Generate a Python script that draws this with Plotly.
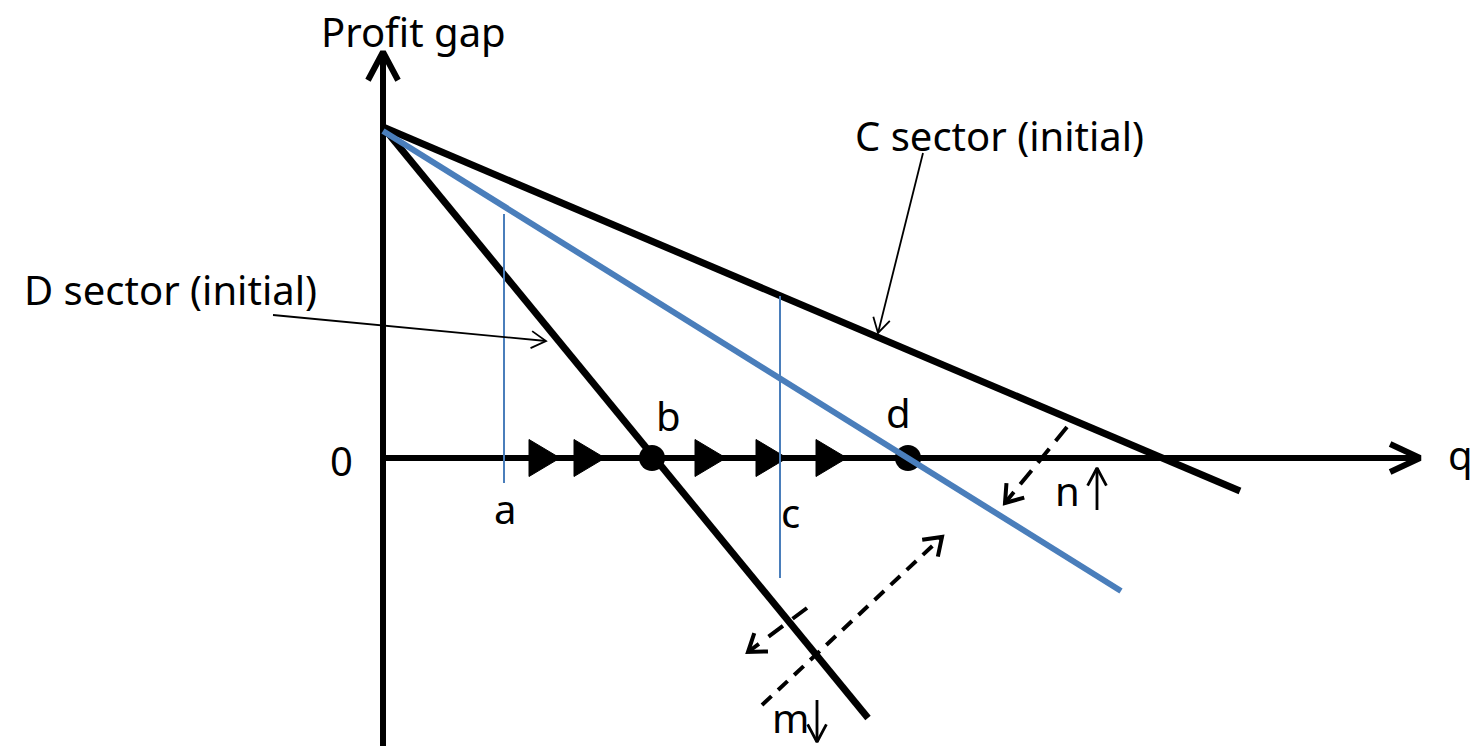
import math
import plotly.graph_objects as go

# ---------------- diagram data (q to the right, profit gap upward; origin = 0) ----------------
q_axis_end = 1037
gap_axis_top = 406
gap_axis_bottom = -290

c_sector_q = [0, 857]
c_sector_gap = [331, -33]
d_sector_q = [0, 485]
d_sector_gap = [331, -260]
new_line_q = [0, 738]
new_line_gap = [327, -133]

marker_labels = ["a", "c"]
marker_q = [121, 397]
marker_gap_top = [244, 162]
marker_gap_bottom = [-25, -120]

equilibrium_labels = ["b", "d"]
equilibrium_q = [269, 525]

flow_triangle_q = [146, 191, 312, 373, 433]   # left edges of the right-pointing flow arrows
flow_triangle_len = 31
flow_triangle_half = 18.5

# dashed shift arrows: tail -> tip
m_long_tail = (379, -247); m_long_tip = (559, -79)
m_short_tail = (424, -150); m_short_tip = (365, -194)
n_tail = (684, 31); n_tip = (622, -45)
m_down_tail = (434, -242); m_down_tip = (434, -284)
n_up_tail = (714, -52); n_up_tip = (714, -10)

c_label_tail = (540, 305); c_label_tip = (495, 125)
d_label_tail = (-110, 143); d_label_tip = (163, 117)

texts = [
    ("Profit gap", 30, 427),
    ("C sector (initial)", 616, 323),
    ("D sector (initial)", -213, 169),
    ("0", -42, -2),
    ("q", 1077, 4),
    ("a", 122, -50),
    ("b", 285, 43),
    ("c", 407, -54),
    ("d", 515, 46),
    ("m", 407, -259),
    ("n", 684, -32),
]

BLACK = "#000000"
BLUE = "#4A7EBB"
FONT = "Noto Sans"


def chevron(tip, tail, length, half_angle_deg):
    dx, dy = tip[0] - tail[0], tip[1] - tail[1]
    n = math.hypot(dx, dy)
    bx, by = -dx / n, -dy / n
    a = math.radians(half_angle_deg)
    arms = []
    for s in (1, -1):
        ca, sa = math.cos(s * a), math.sin(s * a)
        rx, ry = bx * ca - by * sa, bx * sa + by * ca
        arms.append((tip[0] + rx * length, tip[1] + ry * length))
    return [arms[0][0], tip[0], arms[1][0]], [arms[0][1], tip[1], arms[1][1]]


fig = go.Figure()


def line(xs, ys, color=BLACK, width=6, dash="solid"):
    fig.add_trace(go.Scatter(x=xs, y=ys, mode="lines", hoverinfo="skip",
                             line=dict(color=color, width=width, dash=dash)))


# dashed shift arrows (drawn first so the solid lines sit on top)
for tail, tip, dash in [(m_long_tail, m_long_tip, "13px,9px"),
                        (m_short_tail, m_short_tip, "18px,12px"),
                        (n_tail, n_tip, "18px,10px")]:
    line([tail[0], tip[0]], [tail[1], tip[1]], width=4, dash=dash)
    cx, cy = chevron(tip, tail, 20, 35)
    line(cx, cy, width=4)

# axes
line([0, 0], [gap_axis_bottom, gap_axis_top], width=6)
cx, cy = chevron((0, gap_axis_top), (0, 0), 32, 28)
line(cx, cy, width=6)
line([0, q_axis_end], [0, 0], width=6)
cx, cy = chevron((q_axis_end, 0), (0, 0), 33, 25)
line(cx, cy, width=6)

# flow triangles on the q axis
tx, ty = [], []
for q0 in flow_triangle_q:
    tx += [q0, q0 + flow_triangle_len, q0, q0, None]
    ty += [flow_triangle_half, 0, -flow_triangle_half, flow_triangle_half, None]
fig.add_trace(go.Scatter(x=tx, y=ty, mode="lines", fill="toself", fillcolor=BLACK,
                         line=dict(color=BLACK, width=1), hoverinfo="skip"))

# sector lines
line(c_sector_q, c_sector_gap, width=7)
line(d_sector_q, d_sector_gap, width=7)

# equilibrium dots
fig.add_trace(go.Scatter(x=equilibrium_q, y=[0] * len(equilibrium_q), mode="markers",
                         marker=dict(size=26, color=BLACK), hoverinfo="skip"))

# new (blue) line
line(new_line_q, new_line_gap, color=BLUE, width=6)

# thin vertical markers
for q, top, bot in zip(marker_q, marker_gap_top, marker_gap_bottom):
    line([q, q], [bot, top], color=BLUE, width=2)

# label pointer arrows
for tail, tip in [(c_label_tail, c_label_tip), (d_label_tail, d_label_tip)]:
    line([tail[0], tip[0]], [tail[1], tip[1]], width=1.8)
    cx, cy = chevron(tip, tail, 17, 30)
    line(cx, cy, width=1.8)

# small m / n direction arrows
for tail, tip in [(m_down_tail, m_down_tip), (n_up_tail, n_up_tip)]:
    line([tail[0], tip[0]], [tail[1], tip[1]], width=2.8)
    cx, cy = chevron(tip, tail, 20, 28)
    line(cx, cy, width=2.8)

for t, x, y in texts:
    fig.add_annotation(x=x, y=y, text=t, showarrow=False, xref="x", yref="y",
                       xanchor="center", yanchor="middle", borderpad=0,
                       font=dict(family=FONT, size=40, color=BLACK))

fig.update_layout(
    width=1477, height=746,
    margin=dict(l=0, r=0, t=0, b=0),
    paper_bgcolor="white", plot_bgcolor="white",
    showlegend=False,
    xaxis=dict(range=[-383, 1094], visible=False, fixedrange=True),
    yaxis=dict(range=[-288, 458], visible=False, fixedrange=True),
)

fig.write_html("out.html", config={"displayModeBar": False},
               post_script="document.body.style.margin='0';")
